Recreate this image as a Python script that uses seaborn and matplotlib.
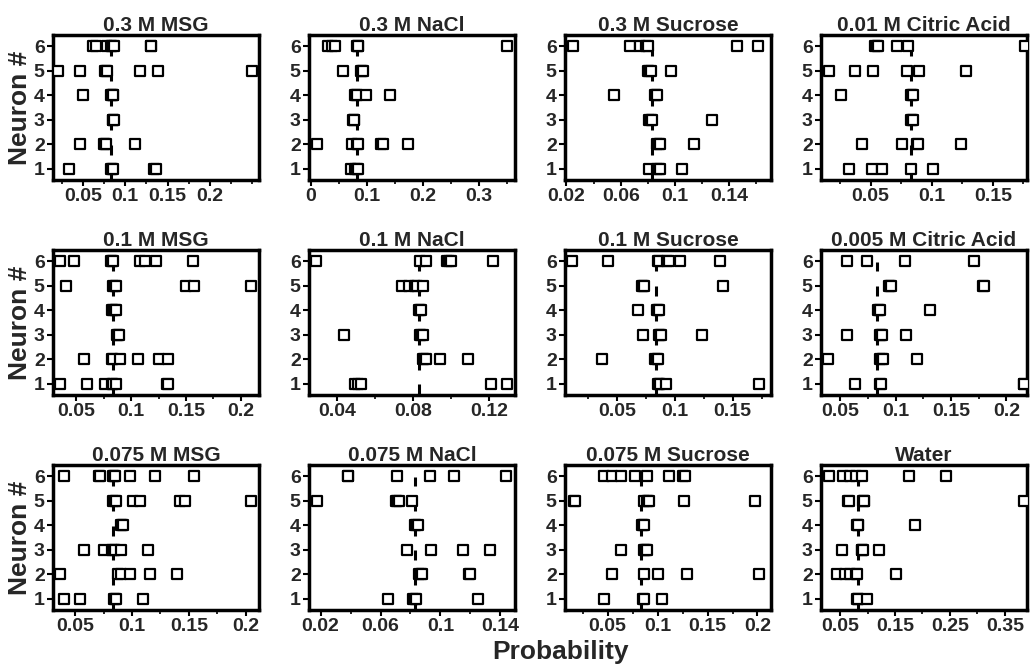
import numpy as np
import pandas as pd
import matplotlib
matplotlib.use("Agg")
import matplotlib.pyplot as plt
from matplotlib.ticker import AutoMinorLocator
import seaborn as sns

# ---------------- data (probability per neuron row) ----------------
titles = ["0.3 M MSG", "0.3 M NaCl", "0.3 M Sucrose", "0.01 M Citric Acid",
          "0.1 M MSG", "0.1 M NaCl", "0.1 M Sucrose", "0.005 M Citric Acid",
          "0.075 M MSG", "0.075 M NaCl", "0.075 M Sucrose", "Water"]

msg_03 = {6: [0.062, 0.066, 0.078, 0.083, 0.084, 0.0865, 0.130, 0.131],
          5: [0.020, 0.047, 0.076, 0.077, 0.078, 0.117, 0.139, 0.250],
          4: [0.050, 0.083, 0.084, 0.085, 0.0855],
          3: [0.085, 0.086, 0.087],
          2: [0.046, 0.075, 0.076, 0.077, 0.111],
          1: [0.033, 0.083, 0.084, 0.085, 0.134, 0.136]}
nacl_03 = {6: [0.031, 0.038, 0.044, 0.082, 0.084, 0.085, 0.350],
           5: [0.057, 0.090, 0.091, 0.093],
           4: [0.079, 0.081, 0.082, 0.099, 0.142],
           3: [0.076, 0.077, 0.078],
           2: [0.011, 0.073, 0.083, 0.085, 0.125, 0.129, 0.173],
           1: [0.072, 0.079, 0.083, 0.085]}
suc_03 = {6: [0.025, 0.067, 0.074, 0.079, 0.080, 0.146, 0.161],
          5: [0.080, 0.081, 0.082, 0.097],
          4: [0.055, 0.085, 0.086, 0.087],
          3: [0.081, 0.082, 0.083, 0.127],
          2: [0.087, 0.088, 0.089, 0.114],
          1: [0.081, 0.087, 0.088, 0.089, 0.105]}
cit_001 = {6: [0.0535, 0.055, 0.056, 0.072, 0.081, 0.176],
           5: [0.016, 0.037, 0.052, 0.080, 0.090, 0.128],
           4: [0.026, 0.083, 0.084, 0.085],
           3: [0.083, 0.084, 0.085],
           2: [0.043, 0.076, 0.088, 0.089, 0.124],
           1: [0.032, 0.051, 0.059, 0.083, 0.101]}
msg_01 = {6: [0.035, 0.0485, 0.082, 0.083, 0.084, 0.108, 0.1125, 0.123, 0.1565],
          5: [0.041, 0.084, 0.085, 0.086, 0.150, 0.157, 0.209],
          4: [0.083, 0.084, 0.085, 0.086],
          3: [0.087, 0.088, 0.089],
          2: [0.057, 0.083, 0.084, 0.090, 0.106, 0.125, 0.134],
          1: [0.035, 0.060, 0.076, 0.083, 0.084, 0.086, 0.133, 0.134]}
nacl_01 = {6: [0.029, 0.0835, 0.087, 0.098, 0.099, 0.100, 0.122],
           5: [0.074, 0.078, 0.081, 0.082, 0.085],
           4: [0.083, 0.0835, 0.084],
           3: [0.0435, 0.0835, 0.084, 0.085],
           2: [0.085, 0.086, 0.087, 0.094, 0.109],
           1: [0.0495, 0.051, 0.0525, 0.121, 0.1295]}
suc_01 = {6: [0.011, 0.042, 0.085, 0.086, 0.093, 0.095, 0.1045, 0.139],
          5: [0.071, 0.072, 0.073, 0.142],
          4: [0.068, 0.084, 0.085, 0.086],
          3: [0.072, 0.086, 0.087, 0.088, 0.123],
          2: [0.037, 0.083, 0.084, 0.085],
          1: [0.085, 0.086, 0.087, 0.092, 0.173]}
cit_0005 = {6: [0.056, 0.074, 0.1085, 0.171],
            5: [0.094, 0.095, 0.096, 0.179, 0.1795],
            4: [0.084, 0.085, 0.086, 0.131],
            3: [0.056, 0.086, 0.087, 0.088, 0.109],
            2: [0.039, 0.086, 0.088, 0.089, 0.119],
            1: [0.063, 0.086, 0.087, 0.2155, 0.216]}
msg_0075 = {6: [0.040, 0.071, 0.072, 0.083, 0.084, 0.085, 0.098, 0.120, 0.155],
            5: [0.083, 0.085, 0.086, 0.101, 0.107, 0.142, 0.147, 0.205],
            4: [0.090, 0.091, 0.092],
            3: [0.058, 0.075, 0.082, 0.084, 0.085, 0.090, 0.114],
            2: [0.037, 0.088, 0.090, 0.098, 0.116, 0.140],
            1: [0.040, 0.054, 0.084, 0.085, 0.086, 0.110]}
nacl_0075 = {6: [0.038, 0.0385, 0.071, 0.093, 0.109, 0.144],
             5: [0.0175, 0.070, 0.071, 0.072, 0.081],
             4: [0.083, 0.084, 0.085],
             3: [0.078, 0.094, 0.115, 0.133],
             2: [0.086, 0.087, 0.088, 0.119, 0.1195],
             1: [0.065, 0.082, 0.083, 0.084, 0.125]}
suc_0075 = {6: [0.046, 0.054, 0.063, 0.077, 0.089, 0.111, 0.125, 0.127],
            5: [0.016, 0.017, 0.086, 0.089, 0.090, 0.091, 0.126, 0.198],
            4: [0.084, 0.085, 0.086],
            3: [0.063, 0.086, 0.087, 0.088, 0.089],
            2: [0.054, 0.086, 0.100, 0.129, 0.202],
            1: [0.046, 0.085, 0.086, 0.104]}
water = {6: [0.030, 0.056, 0.068, 0.079, 0.089, 0.1755, 0.243],
         5: [0.064, 0.066, 0.092, 0.093, 0.094, 0.385],
         4: [0.080, 0.082, 0.083, 0.187],
         3: [0.053, 0.089, 0.090, 0.091, 0.120],
         2: [0.044, 0.059, 0.068, 0.078, 0.081, 0.151],
         1: [0.080, 0.082, 0.083, 0.099]}

panel_data = [msg_03, nacl_03, suc_03, cit_001, msg_01, nacl_01, suc_01, cit_0005,
              msg_0075, nacl_0075, suc_0075, water]

x_limits = [(0.0146, 0.258), (-0.003, 0.364), (0.019, 0.1707), (0.0095, 0.178),
            (0.029, 0.2164), (0.0252, 0.1337), (0.0047, 0.1832), (0.0327, 0.2185),
            (0.0305, 0.2118), (0.0123, 0.1497), (0.0074, 0.2135), (0.0151, 0.3905)]
x_ticks = [[0.05, 0.1, 0.15, 0.2], [0, 0.1, 0.2, 0.3], [0.02, 0.06, 0.1, 0.14], [0.05, 0.1, 0.15],
           [0.05, 0.1, 0.15, 0.2], [0.04, 0.08, 0.12], [0.05, 0.1, 0.15], [0.05, 0.1, 0.15, 0.2],
           [0.05, 0.1, 0.15, 0.2], [0.02, 0.06, 0.1, 0.14], [0.05, 0.1, 0.15, 0.2], [0.05, 0.15, 0.25, 0.35]]
x_ticklabels = [["0.05", "0.1", "0.15", "0.2"], ["0", "0.1", "0.2", "0.3"],
                ["0.02", "0.06", "0.1", "0.14"], ["0.05", "0.1", "0.15"],
                ["0.05", "0.1", "0.15", "0.2"], ["0.04", "0.08", "0.12"],
                ["0.05", "0.1", "0.15"], ["0.05", "0.1", "0.15", "0.2"],
                ["0.05", "0.1", "0.15", "0.2"], ["0.02", "0.06", "0.1", "0.14"],
                ["0.05", "0.1", "0.15", "0.2"], ["0.05", "0.15", "0.25", "0.35"]]
neurons = [1, 2, 3, 4, 5, 6]
chance = 1 / 12

rows = []
for title, d in zip(titles, panel_data):
    for n, vals in d.items():
        for v in vals:
            rows.append({"panel": title, "neuron": n, "prob": v})
df = pd.DataFrame(rows)

# ---------------- plotting ----------------
sns.set_style("ticks")
plt.rcParams["font.family"] = ["Liberation Sans", "DejaVu Sans"]
plt.rcParams["font.weight"] = "bold"

fig, axes = plt.subplots(3, 4, figsize=(10.3, 6.65), dpi=100)
fig.subplots_adjust(left=53 / 1030, right=1027 / 1030, top=1 - 35 / 665,
                    bottom=1 - 610 / 665, wspace=0.243, hspace=0.483)

for i, ax in enumerate(axes.flat):
    sub = df[df["panel"] == titles[i]]
    ax.vlines([chance] * len(neurons), [n - 0.42 for n in neurons],
              [n - 0.02 for n in neurons], color="black", lw=2.2, zorder=1)
    sns.scatterplot(data=sub, x="prob", y="neuron", marker="s", s=50,
                    facecolor="white", edgecolor="black", linewidth=1.6,
                    ax=ax, zorder=3, legend=False)
    ax.set_xlim(*x_limits[i])
    ax.set_ylim(0.55, 6.45)
    ax.set_yticks(neurons)
    ax.set_yticklabels([str(n) for n in neurons], fontsize=14, fontweight="bold")
    ax.set_xticks(x_ticks[i])
    ax.set_xticklabels(x_ticklabels[i], fontsize=14, fontweight="bold")
    ax.xaxis.set_minor_locator(AutoMinorLocator(2))
    ax.tick_params(axis="both", which="major", length=4, width=1.5, pad=2, color="black")
    ax.tick_params(axis="x", which="minor", length=3, width=1.2, color="black")
    ax.set_xlabel("")
    ax.set_ylabel("")
    ax.set_title(titles[i], fontsize=15, fontweight="bold", pad=3)
    for sp in ax.spines.values():
        sp.set_visible(True)
        sp.set_linewidth(2.5)
        sp.set_color("black")
    if i % 4 == 0:
        ax.set_ylabel("Neuron #", fontsize=19, fontweight="bold", labelpad=1)

fig.text(560 / 1030, 1 - 652 / 665, "Probability", ha="center", va="center",
         fontsize=19, fontweight="bold")

fig.savefig("out.png", dpi=100, facecolor="white")
